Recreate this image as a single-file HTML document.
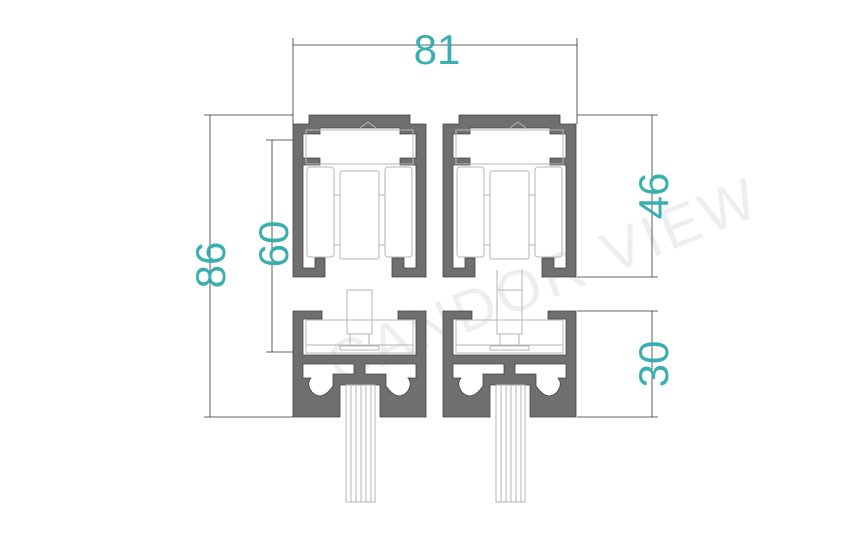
<!DOCTYPE html>
<html><head><meta charset="utf-8"><style>
html,body{margin:0;padding:0;background:#fff;}
svg{display:block}
.t{font-family:"Liberation Sans",sans-serif;fill:#3aafb0;font-size:42px;}
</style></head><body>
<svg width="864" height="536" viewBox="0 0 864 536" xmlns="http://www.w3.org/2000/svg">
<defs>
<g id="top">
  <path d="M293,124 H309 V115 H410 V124 H426 V277 H392 V258 H404 V268 H416 V165 H400 V158 H416 V134 H400 V128 H320 V134 H303 V158 H320 V165 H303 V268 H315 V258 H325 V277 H293 Z" fill="#6f6f6f" stroke="#444" stroke-width="0.8"/>
  <g fill="none" stroke="#b5b5b5" stroke-width="1">
    <rect x="306" y="130" width="107" height="34"/>
    <path d="M360,128 L368,122 L376,128"/>
    <rect x="307" y="167" width="27" height="90" rx="3"/>
    <rect x="385" y="167" width="27" height="90" rx="3"/>
    <rect x="340" y="171" width="39" height="88" rx="2"/>
    <line x1="334" y1="195" x2="340" y2="195"/><line x1="379" y1="195" x2="385" y2="195"/>
    <line x1="334" y1="245" x2="340" y2="245"/><line x1="379" y1="245" x2="385" y2="245"/>
  </g>
</g>
<g id="bot">
  <path d="M293,311 H322 V319 H303 V355 H416 V319 H398 V311 H426 V417 H380 V385 H340 V417 H293 Z M303,364 H354 V374 H333 V386 Q322,402 312,392 Q306,384 311,378 L303,378 Z M416,364 H365 V374 H386 V386 Q397,402 407,392 Q413,384 408,378 L416,378 Z" fill="#6f6f6f" fill-rule="evenodd" stroke="#444" stroke-width="0.8"/>
  <g fill="none" stroke="#b5b5b5" stroke-width="1">
    <rect x="306" y="320" width="107" height="33"/>
    <line x1="306" y1="345" x2="413" y2="345"/>
    <rect x="347" y="290" width="25" height="44"/>
    <rect x="350" y="334" width="19" height="11"/>
    <rect x="340" y="346" width="39" height="4"/>
    <rect x="346" y="385" width="29" height="117"/>
    <line x1="351" y1="385" x2="351" y2="502"/><line x1="356" y1="385" x2="356" y2="502"/>
    <line x1="361" y1="385" x2="361" y2="502"/><line x1="366" y1="385" x2="366" y2="502"/>
    <line x1="371" y1="385" x2="371" y2="502"/>
  </g>
</g>
</defs>
<text x="300" y="330" transform="rotate(-22 460 260)" font-family="Liberation Sans,sans-serif" font-size="58" fill="#eeeeee" letter-spacing="4">CANDOR VIEW</text>
<use href="#top"/>
<use href="#top" transform="translate(150,0)"/>
<use href="#bot"/>
<use href="#bot" transform="translate(150,0)"/>
<line x1="497" y1="270" x2="497" y2="290" stroke="#b5b5b5"/><line x1="522" y1="270" x2="522" y2="290" stroke="#b5b5b5"/>
<g stroke="#333" stroke-width="0.8" fill="none">
  <line x1="293" y1="45" x2="577" y2="45"/>
  <line x1="293" y1="38" x2="293" y2="124"/><line x1="577" y1="38" x2="577" y2="124"/>
  <line x1="210" y1="115" x2="210" y2="417"/>
  <line x1="204" y1="115" x2="293" y2="115"/><line x1="204" y1="417" x2="293" y2="417"/>
  <line x1="272" y1="140" x2="272" y2="352"/>
  <line x1="266" y1="140" x2="293" y2="140"/><line x1="266" y1="352" x2="293" y2="352"/>
  <line x1="652" y1="115" x2="652" y2="277"/>
  <line x1="577" y1="115" x2="658" y2="115"/><line x1="577" y1="277" x2="658" y2="277"/>
  <line x1="652" y1="311" x2="652" y2="417"/>
  <line x1="577" y1="311" x2="658" y2="311"/><line x1="577" y1="417" x2="658" y2="417"/>
</g>
<text class="t" x="437" y="64" text-anchor="middle">81</text>
<text class="t" transform="translate(225,265) rotate(-90)" text-anchor="middle">86</text>
<text class="t" transform="translate(288,244) rotate(-90)" text-anchor="middle">60</text>
<text class="t" transform="translate(668,196) rotate(-90)" text-anchor="middle">46</text>
<text class="t" transform="translate(668,364) rotate(-90)" text-anchor="middle">30</text>
</svg>
</body></html>
